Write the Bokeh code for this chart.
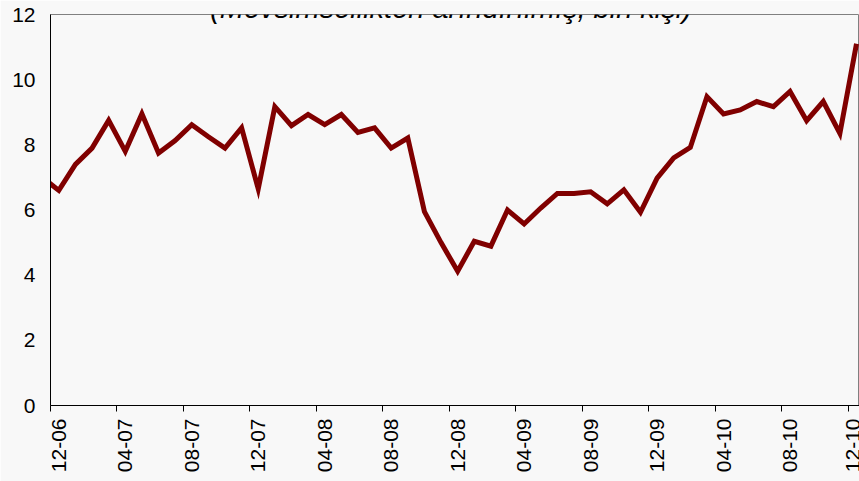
import math
from bokeh.plotting import figure
from bokeh.models import ColumnDataSource, Range1d, FixedTicker, Label
from bokeh.embed import file_html
from bokeh.resources import INLINE

# Monthly series (seasonally adjusted, thousand persons); index 0 = 12-06
months = ["11-06", "12-06",
          "01-07", "02-07", "03-07", "04-07", "05-07", "06-07",
          "07-07", "08-07", "09-07", "10-07", "11-07", "12-07",
          "01-08", "02-08", "03-08", "04-08", "05-08", "06-08",
          "07-08", "08-08", "09-08", "10-08", "11-08", "12-08",
          "01-09", "02-09", "03-09", "04-09", "05-09", "06-09",
          "07-09", "08-09", "09-09", "10-09", "11-09", "12-09",
          "01-10", "02-10", "03-10", "04-10", "05-10", "06-10",
          "07-10", "08-10", "09-10", "10-10", "11-10", "12-10"]
values = [7.0, 6.6,
          7.4, 7.9, 8.75, 7.8, 8.95, 7.75,
          8.13, 8.62, 8.25, 7.9, 8.52, 6.65,
          9.17, 8.59, 8.93, 8.62, 8.93, 8.38,
          8.52, 7.9, 8.21, 5.95, 5.0, 4.12,
          5.04, 4.89, 6.0, 5.57, 6.06, 6.51,
          6.51, 6.56, 6.19, 6.62, 5.93, 6.98,
          7.6, 7.92, 9.48, 8.95, 9.07, 9.33,
          9.17, 9.64, 8.74, 9.33, 8.35, 11.1]
tick_labels = ["12-06", "04-07", "08-07", "12-07", "04-08", "08-08", "12-08",
               "04-09", "08-09", "12-09", "04-10", "08-10", "12-10"]
y_ticks = [0, 2, 4, 6, 8, 10, 12]
title_text = "(Mevsimsellikten arındırılmış, bin kişi)"

x_idx = [i - 1 for i in range(len(months))]
src = ColumnDataSource(dict(x=x_idx, y=values, m=months))

label_pos = [x_idx[months.index(t)] for t in tick_labels]
minor_pos = [p - 0.5 for p in label_pos]

BG = "#F8F8F8"
FONT = "Liberation Sans"

p = figure(width=859, height=481, output_backend="svg", toolbar_location=None,
           x_range=Range1d(-0.5, 48.18), y_range=Range1d(0, 12),
           min_border_left=50, min_border_top=14, min_border_bottom=76,
           min_border_right=0)
p.background_fill_color = BG
p.border_fill_color = BG
p.outline_line_color = "#808080"
p.outline_line_width = 1
p.xgrid.visible = False
p.ygrid.visible = False

p.line("x", "y", source=src, line_color="#800000", line_width=5,
       line_join="miter")

# x axis
xa = p.xaxis[0]
xa.ticker = FixedTicker(ticks=label_pos, minor_ticks=minor_pos)
xa.major_label_overrides = {pos: lab for pos, lab in zip(label_pos, tick_labels)}
xa.major_label_orientation = math.pi / 2
xa.major_tick_line_color = None
xa.major_tick_out = 0
xa.major_tick_in = 0
xa.minor_tick_line_color = "#000000"
xa.minor_tick_out = 6
xa.minor_tick_in = 0
xa.major_label_standoff = 7
xa.major_label_text_font = FONT
xa.major_label_text_font_size = "21px"
xa.major_label_text_color = "#000000"
xa.axis_line_color = "#000000"

# y axis
ya = p.yaxis[0]
ya.ticker = FixedTicker(ticks=y_ticks)
ya.major_tick_line_color = None
ya.minor_tick_line_color = None
ya.major_tick_out = 0
ya.major_tick_in = 0
ya.major_label_standoff = 15
ya.major_label_text_font = FONT
ya.major_label_text_font_size = "21px"
ya.major_label_text_color = "#000000"
ya.axis_line_color = "#000000"

title = Label(x=400.5, y=398, x_units="screen", y_units="screen",
              text=title_text, text_align="center", text_baseline="alphabetic",
              text_font=FONT, text_font_style="italic", text_font_size="29px",
              text_color="#000000")
p.add_layout(title)

open("out.html", "w").write(file_html(p, INLINE))
